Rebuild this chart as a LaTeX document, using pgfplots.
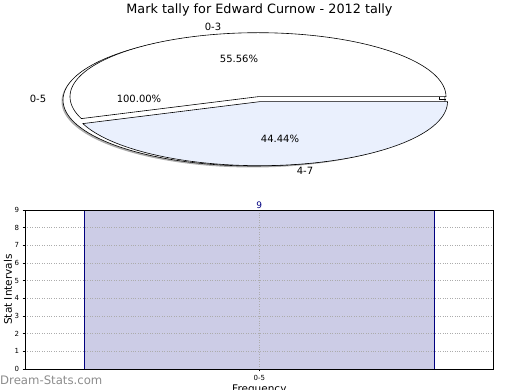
\documentclass[border=0pt]{standalone}
\usepackage{pgfplots}
\pgfplotsset{compat=1.18}
\usepackage{fontspec}
\setmainfont{DejaVu Sans}
\definecolor{navy}{RGB}{0,0,128}
\definecolor{barfill}{RGB}{204,204,230}
\definecolor{pieblue}{RGB}{234,240,253}
\definecolor{wm}{RGB}{140,140,140}
% pie data (percent)
\def\pA{55.56}% 0-3
\def\pB{44.44}% 4-7
\def\pC{100.00}% 0-5
\begin{document}
\begin{tikzpicture}
\useasboundingbox (0,0) rectangle (520pt,390pt);
\pgfmathsetmacro\angA{3.6*\pA}
\pgfmathsetmacro\angC{3.6*\pC}
% ---------------- pie ----------------
\begin{axis}[at={(0pt,0pt)}, anchor=south west, width=520pt, height=390pt,
  scale only axis, xmin=0, xmax=520, ymin=0, ymax=390, hide axis, clip=false]
% shadow of the 0-5 pie
\addplot[draw=none, fill=gray!65, domain=0:\angC, samples=181, variable=\t]
  ({252.5+191*cos(\t)},{288.5+66*sin(\t)}) -- cycle;
% 0-5 slice (100%)
\addplot[draw=black, line width=0.6pt, fill=white, domain=0:\angC, samples=181, variable=\t]
  ({254+191*cos(\t)},{290+66*sin(\t)}) -- cycle;
% 0-3 slice
\addplot[draw=black, line width=0.6pt, fill=white, domain=0:\angA, samples=121, variable=\t]
  ({258+188*cos(\t)},{293.3+64*sin(\t)}) -- (axis cs:258,293.3) -- cycle;
% 4-7 slice (exploded)
\addplot[draw=black, line width=0.6pt, fill=pieblue, domain=\angA:360, samples=101, variable=\t]
  ({259.5+188*cos(\t)},{288.3+64*sin(\t)}) -- (axis cs:259.5,288.3) -- cycle;
% side of 0-3 slice
\addplot[draw=black, line width=0.5pt] coordinates {(439.3,293.3) (439.3,290.3) (445.5,290.3)};
\node[font=\fontsize{12.8}{15}\selectfont] at (axis cs:259.5,380) {Mark tally for Edward Curnow - 2012 tally};
\node[font=\fontsize{10}{12}\selectfont] at (axis cs:213,363) {0-3};
\node[font=\fontsize{10}{12}\selectfont] at (axis cs:239,331) {55.56\%};
\node[font=\fontsize{10}{12}\selectfont] at (axis cs:38,291) {0-5};
\node[font=\fontsize{10}{12}\selectfont] at (axis cs:139,291) {100.00\%};
\node[font=\fontsize{10}{12}\selectfont] at (axis cs:280,251) {44.44\%};
\node[font=\fontsize{10}{12}\selectfont] at (axis cs:305,219) {4-7};
\node[font=\fontsize{11.7}{14}\selectfont, text=wm, anchor=west, inner sep=0pt] at (axis cs:0,10) {Dream-Stats.com};
\end{axis}
% ---------------- bar chart ----------------
\begin{axis}[at={(25pt,21pt)}, anchor=south west, width=468.7pt, height=159pt,
  scale only axis,
  xmin=-0.67, xmax=0.67, ymin=0, ymax=9,
  ybar, bar width=1,
  xtick={0}, xticklabels={0-5}, ytick={0,1,...,9},
  tick align=outside, major tick length=2.5pt, xtick pos=bottom, ytick pos=left,
  grid=major, grid style={dotted, line width=0.7pt, color=gray!65},
  axis on top,
  axis line style={line width=0.7pt},
  tick style={line width=0.5pt, black},
  ticklabel style={font=\fontsize{7}{8}\selectfont},
  /pgf/number format/assume math mode=true,
  ylabel={Stat Intervals}, xlabel={Frequency},
  label style={font=\fontsize{10.5}{12}\selectfont},
  ylabel style={at={(axis description cs:-0.0363,0.5)}, anchor=center},
  xlabel style={at={(axis description cs:0.5,0)}, anchor=north, yshift=-15.5pt, inner sep=0pt},
  nodes near coords,
  every node near coord/.append style={text=navy, font=\fontsize{9}{10}\selectfont, inner sep=0.8pt},
]
\addplot[fill=barfill, draw=navy, line width=0.7pt] coordinates {(0,9)};
\end{axis}
\end{tikzpicture}
\end{document}
